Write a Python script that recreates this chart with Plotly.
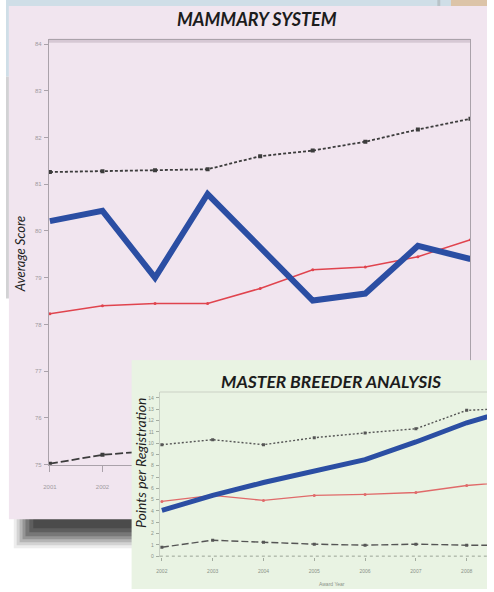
import plotly.graph_objects as go

W, H = 494, 592

# ---- Mammary system (average score by year) ----
mammary_years = [2001, 2002, 2003, 2004, 2005, 2006, 2007, 2008, 2009]
mammary_upper = [81.26, 81.28, 81.30, 81.32, 81.60, 81.72, 81.91, 82.17, 82.40]
mammary_breeder = [80.21, 80.43, 79.00, 80.79, None, 78.51, 78.66, 79.68, 79.40]
mammary_average = [78.23, 78.40, 78.45, 78.45, 78.77, 79.17, 79.23, 79.45, 79.81]
mammary_lower_years = [2001, 2002, 2003]
mammary_lower = [75.02, 75.21, 75.30]
mammary_yticks = [75, 76, 77, 78, 79, 80, 81, 82, 83, 84]

# ---- Master breeder analysis (points per registration by award year) ----
breeder_years = [2002, 2003, 2004, 2005, 2006, 2007, 2008, 2009]
breeder_upper = [9.86, 10.30, 9.86, 10.48, 10.90, 11.27, 12.90, 13.10]
breeder_herd = [4.05, 5.37, 6.51, 7.57, 8.54, 10.10, 11.80, 13.10]
breeder_average = [4.84, 5.37, 4.93, 5.37, 5.46, 5.63, 6.25, 6.60]
breeder_lower = [0.79, 1.41, 1.23, 1.06, 0.97, 1.06, 0.97, 0.97]
breeder_yticks = list(range(0, 15))

BLUE = "#2b4ea3"
RED = "#e0444e"
DARK = "#3c3c3c"
PINK = "#f1e5ef"
GREEN = "#e9f3e3"
TICK_GREY = "#a09aa0"


def px(x):
    return x / W


def py(y):
    return 1 - y / H


fig = go.Figure()

# Mammary chart traces
fig.add_trace(go.Scatter(
    x=mammary_years, y=mammary_upper, mode="lines+markers",
    line=dict(color=DARK, width=1.8, dash="3px,2px"),
    marker=dict(symbol="square", size=4, color=DARK),
    xaxis="x", yaxis="y", showlegend=False, hoverinfo="skip"))
fig.add_trace(go.Scatter(
    x=mammary_lower_years, y=mammary_lower, mode="lines+markers",
    line=dict(color=DARK, width=1.8, dash="8px,3px"),
    marker=dict(symbol="square", size=4, color=DARK),
    xaxis="x", yaxis="y", showlegend=False, hoverinfo="skip"))
fig.add_trace(go.Scatter(
    x=mammary_years, y=mammary_average, mode="lines+markers",
    line=dict(color=RED, width=1.5),
    marker=dict(size=3, color=RED),
    xaxis="x", yaxis="y", showlegend=False, hoverinfo="skip"))
fig.add_trace(go.Scatter(
    x=mammary_years, y=mammary_breeder, mode="lines", connectgaps=True,
    line=dict(color=BLUE, width=6),
    xaxis="x", yaxis="y", showlegend=False, hoverinfo="skip"))

# Inset card that carries the second chart (its background hides the chart beneath)
fig.add_trace(go.Scatter(
    x=[0.5], y=[0.5], mode="markers", marker=dict(opacity=0),
    xaxis="x2", yaxis="y2", showlegend=False, hoverinfo="skip"))

# Master breeder chart traces
fig.add_trace(go.Scatter(
    x=breeder_years, y=breeder_upper, mode="lines+markers",
    line=dict(color="#555555", width=1.4, dash="2px,2px"),
    marker=dict(symbol="square", size=3, color="#555555"),
    xaxis="x3", yaxis="y3", showlegend=False, hoverinfo="skip"))
fig.add_trace(go.Scatter(
    x=breeder_years, y=breeder_lower, mode="lines+markers",
    line=dict(color="#555555", width=1.4, dash="7px,3px"),
    marker=dict(symbol="square", size=3, color="#555555"),
    xaxis="x3", yaxis="y3", showlegend=False, hoverinfo="skip"))
fig.add_trace(go.Scatter(
    x=breeder_years, y=breeder_average, mode="lines+markers",
    line=dict(color="#e06a6a", width=1.3),
    marker=dict(size=3, color="#e06a6a"),
    xaxis="x3", yaxis="y3", showlegend=False, hoverinfo="skip"))
fig.add_trace(go.Scatter(
    x=breeder_years, y=breeder_herd, mode="lines",
    line=dict(color=BLUE, width=5),
    xaxis="x3", yaxis="y3", showlegend=False, hoverinfo="skip"))

tick_font = dict(family="Liberation Sans", size=6, color=TICK_GREY)
small_font = dict(family="Liberation Sans", size=5, color="#8a9288")

shapes = [
    # backdrop strip along the top
    dict(type="rect", xref="paper", yref="paper", x0=0, x1=1, y0=py(6), y1=1,
         fillcolor="#cfdee7", line_width=0, layer="below"),
    dict(type="rect", xref="paper", yref="paper", x0=0, x1=px(3), y0=py(77), y1=1,
         fillcolor="#cfdee7", line_width=0, layer="below"),
    dict(type="rect", xref="paper", yref="paper", x0=0, x1=px(3), y0=py(300), y1=py(77),
         fillcolor="#d2d2d4", line_width=0, layer="below"),
    dict(type="rect", xref="paper", yref="paper", x0=px(443), x1=px(446), y0=py(6), y1=1,
         fillcolor="#b9c3c8", line_width=0, layer="below"),
    dict(type="rect", xref="paper", yref="paper", x0=px(457), x1=1, y0=py(6), y1=1,
         fillcolor="#dcc4a8", line_width=0, layer="below"),
]
# soft drop shadow under the pink card
for x0, y1, op in [(8, 551, 0.08), (11, 548, 0.12), (14, 545, 0.16), (17, 542, 0.2),
                   (20, 539, 0.24), (24, 535, 0.26), (28, 531, 0.26)]:
    shapes.append(dict(type="rect", xref="paper", yref="paper",
                       x0=px(x0), x1=px(140), y0=py(y1), y1=py(518),
                       fillcolor=f"rgba(25,25,25,{op})", line_width=0, layer="below"))
shapes += [
    # pink card
    dict(type="rect", xref="paper", yref="paper", x0=px(3), x1=1, y0=py(522), y1=py(6),
         fillcolor=PINK, line_width=0, layer="below"),
    # heavy top rule of the mammary frame
    dict(type="line", xref="paper", yref="paper", x0=px(44), x1=px(477), y0=py(41), y1=py(41),
         line=dict(color="#d6c8d4", width=4), layer="below"),
    # dotted baseline and top rule of the breeder chart
    dict(type="line", xref="x3 domain", yref="y3", x0=0, x1=1, y0=0, y1=0,
         line=dict(color="#9aa396", width=1, dash="dot")),
    dict(type="line", xref="x3 domain", yref="y3 domain", x0=0, x1=1, y0=1, y1=1,
         line=dict(color="#d4dccf", width=1.5)),
]

annotations = [
    dict(text="MAMMARY SYSTEM", xref="paper", yref="paper", x=px(258), y=py(19),
         xanchor="center", yanchor="middle", showarrow=False,
         font=dict(family="Lato", size=18, style="italic", weight="bold", color="#1c1c1c")),
    dict(text="Average Score", xref="paper", yref="paper", x=px(14), y=py(255),
         xanchor="center", yanchor="middle", showarrow=False, textangle=-90,
         font=dict(family="Lato", size=13, style="italic", color="#222222")),
    dict(text="MASTER BREEDER ANALYSIS", xref="paper", yref="paper", x=px(334), y=py(383),
         xanchor="center", yanchor="middle", showarrow=False,
         font=dict(family="Lato", size=17.5, style="italic", weight="bold", color="#1c1c1c")),
    dict(text="Points per Registration", xref="paper", yref="paper", x=px(138), y=py(465),
         xanchor="center", yanchor="middle", showarrow=False, textangle=-90,
         font=dict(family="Lato", size=14, style="italic", color="#1c1c1c")),
    dict(text="Award Year", xref="paper", yref="paper", x=px(335), y=py(587),
         xanchor="center", yanchor="middle", showarrow=False, font=small_font),
]

fig.update_layout(
    width=W, height=H, autosize=False,
    margin=dict(l=0, r=0, t=0, b=0, pad=0),
    paper_bgcolor="white",
    plot_bgcolor=GREEN,
    showlegend=False,
    shapes=shapes,
    annotations=annotations,
    xaxis=dict(domain=[px(44), px(477)], range=[2000.98, 2009.0], anchor="y",
               tickvals=mammary_years, ticktext=[str(v) for v in mammary_years],
               showline=True, linecolor="#aaa2aa", linewidth=1, mirror=True,
               ticks="outside", ticklen=6, tickcolor="#aaa2aa",
               tickfont=tick_font, ticklabelstandoff=10,
               showgrid=False, zeroline=False),
    yaxis=dict(domain=[py(467), py(40)], range=[75, 84.09], anchor="x",
               tickvals=mammary_yticks, ticktext=[str(v) for v in mammary_yticks],
               showline=True, linecolor="#aaa2aa", linewidth=1, mirror=True,
               ticks="outside", ticklen=4, tickcolor="#aaa2aa",
               tickfont=tick_font, ticklabelstandoff=1,
               showgrid=False, zeroline=False),
    xaxis2=dict(domain=[px(129), 1], range=[0, 1], anchor="y2", visible=False),
    yaxis2=dict(domain=[0, py(362)], range=[0, 1], anchor="x2", visible=False),
    xaxis3=dict(domain=[px(158), 1], range=[2001.96, 2008.40], anchor="y3",
                tickvals=breeder_years, ticktext=[str(v) for v in breeder_years],
                showline=False, ticks="outside", ticklen=3, tickcolor="#a4aca0",
                tickfont=small_font, ticklabelstandoff=6,
                showgrid=False, zeroline=False),
    yaxis3=dict(domain=[py(560), py(394)], range=[-0.09, 14.52], anchor="x3",
                tickvals=breeder_yticks, ticktext=[str(v) for v in breeder_yticks],
                showline=True, linecolor="#c8d0c4", linewidth=1,
                ticks="outside", ticklen=3, tickcolor="#a4aca0",
                tickfont=small_font, ticklabelstandoff=1,
                showgrid=False, zeroline=False),
)

fig.write_html("out.html")
